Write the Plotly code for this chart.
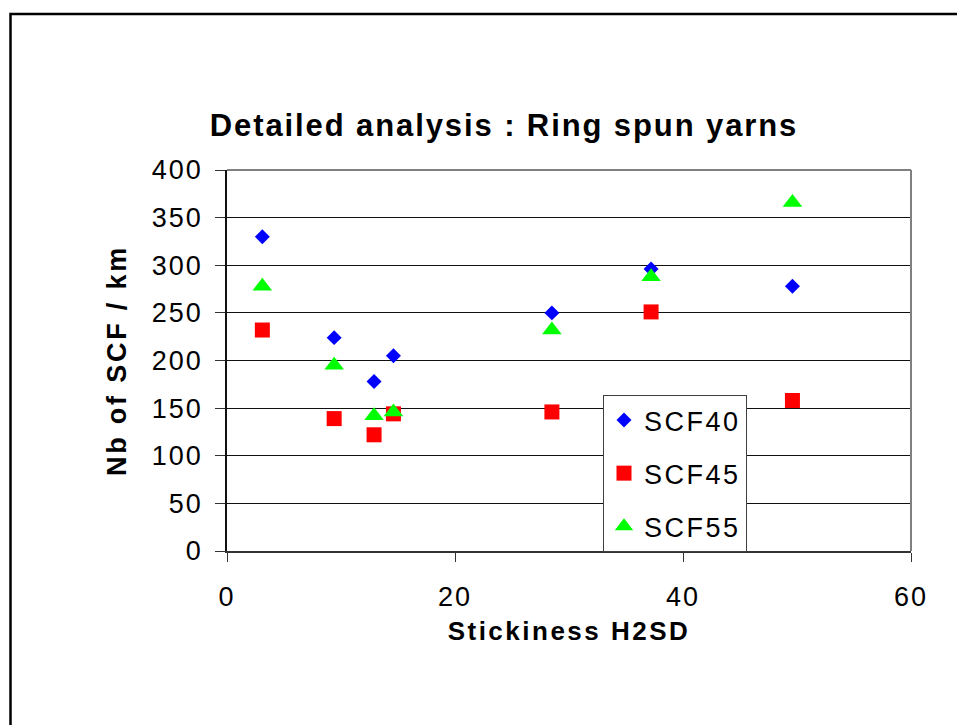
import plotly.graph_objects as go

# ---- data ----
stickiness = [3.1, 9.4, 12.9, 14.6, 28.5, 37.2, 49.6]
scf40 = [330, 224, 178, 205, 250, 296, 278]
scf45 = [232, 139, 122, 144, 146, 251, 158]
scf55 = [278, 195, 142, 146, 232, 288, 366]
series_names = ["SCF40", "SCF45", "SCF55"]
x_ticks = [0, 20, 40, 60]
y_ticks = [0, 50, 100, 150, 200, 250, 300, 350, 400]

title_text = "Detailed analysis : Ring spun yarns"
x_title = "Stickiness H2SD"
y_title = "Nb of SCF / km"

FONT = "Liberation Sans, Arial, Helvetica, sans-serif"

W, H = 957, 725
L, R, T, B = 227, 46, 170, 174
pw, ph = W - L - R, H - T - B


def px_to_paper_x(px):
    return (px - L) / pw


def px_to_paper_y(py):
    return (H - B - py) / ph


def spaced(txt, sp):
    return f'<span style="letter-spacing:{sp}px">{txt}</span>'


styles = [
    dict(symbol="diamond", color="#0000FF", size=11.5),
    dict(symbol="square", color="#FF0000", size=15),
    dict(symbol="triangle-up", color="#00FF00", size=17),
]

fig = go.Figure()
for name, ys, st in zip(series_names, [scf40, scf45, scf55], styles):
    fig.add_trace(go.Scatter(
        x=stickiness, y=ys, mode="markers", name=spaced(name, 2.5),
        legendgroup=name,
        marker=dict(symbol=st["symbol"], color=st["color"], size=st["size"],
                    line=dict(width=0)),
        cliponaxis=False,
    ))

fig.update_layout(
    width=W, height=H,
    margin=dict(l=L, r=R, t=T, b=B, pad=0),
    paper_bgcolor="white", plot_bgcolor="white",
    font=dict(family=FONT, color="black"),
    title=dict(text=spaced(title_text, 1.9), x=504 / W, xanchor="center",
               xref="container", yref="container", y=1 - 125 / H,
               yanchor="middle",
               font=dict(size=31, family=FONT, weight="bold", color="black")),
    showlegend=True,
    legend=dict(
        x=px_to_paper_x(603), y=px_to_paper_y(395), xanchor="left", yanchor="top",
        bgcolor="white", bordercolor="#404040", borderwidth=1,
        font=dict(size=27, family=FONT, color="black"),
        traceorder="grouped", tracegroupgap=15,
        itemsizing="trace",
    ),
    xaxis=dict(
        range=[0, 60], tickvals=x_ticks, ticktext=[spaced(str(v), 2) for v in x_ticks],
        showgrid=False, zeroline=False,
        showline=True, linecolor="#333333", linewidth=2,
        ticks="outside", ticklen=9, tickwidth=1, tickcolor="#333333",
        tickfont=dict(size=27, family=FONT, color="black"),
        ticklabelstandoff=12,
        title=dict(text=spaced(x_title, 2.5), standoff=10,
                   font=dict(size=26, family=FONT, weight="bold", color="black")),
    ),
    yaxis=dict(
        range=[0, 400], tickvals=y_ticks, ticktext=[spaced(str(v), 2) for v in y_ticks],
        showgrid=True, gridcolor="#111111", gridwidth=1,
        zeroline=False,
        showline=True, linecolor="#111111", linewidth=1.5,
        ticks="outside", ticklen=10, tickwidth=1, tickcolor="#333333",
        tickfont=dict(size=27, family=FONT, color="black"),
        ticklabelstandoff=7,
        title=dict(text=spaced(y_title, 2.8), standoff=17,
                   font=dict(size=27, family=FONT, weight="bold", color="black")),
    ),
    shapes=[
        # top and right frame of the plot area (gray)
        dict(type="line", xref="paper", yref="paper", x0=0, x1=1, y0=1, y1=1,
             line=dict(color="#808080", width=2), layer="above"),
        dict(type="line", xref="paper", yref="paper", x0=1, x1=1, y0=0, y1=1,
             line=dict(color="#808080", width=2), layer="above"),
        # outer chart border (extends past the visible window)
        dict(type="rect", xref="paper", yref="paper",
             x0=px_to_paper_x(10.5), x1=px_to_paper_x(1010),
             y0=px_to_paper_y(780), y1=px_to_paper_y(14),
             line=dict(color="black", width=2.5), layer="below"),
    ],
)

fig.write_html("out.html")
